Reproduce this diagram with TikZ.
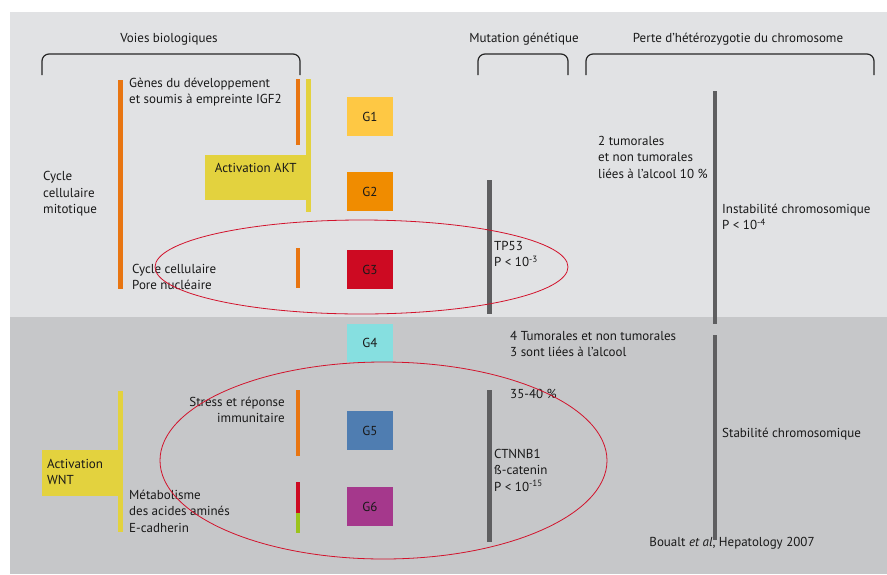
\documentclass[tikz,border=0pt]{standalone}
\usepackage{fontspec}
\setmainfont{PT Sans}
\usetikzlibrary{positioning}
\definecolor{bgtop}{HTML}{E1E2E4}
\definecolor{bgbot}{HTML}{C6C7C9}
\definecolor{barorange}{HTML}{E87511}
\definecolor{baryellow}{HTML}{E3D23E}
\definecolor{bargray}{HTML}{5E5E60}
\definecolor{bargreen}{HTML}{9BC31C}
\definecolor{ringred}{HTML}{D2132C}
\definecolor{cgi}{HTML}{FEC844}
\definecolor{cgii}{HTML}{F08C00}
\definecolor{cgiii}{HTML}{CD0A22}
\definecolor{cgiv}{HTML}{86DFE0}
\definecolor{cgv}{HTML}{4F7DB1}
\definecolor{cgvi}{HTML}{A5388C}

\begin{document}
\begin{tikzpicture}[
x=1pt, y=-1pt,
txt/.style={inner sep=0pt, align=left, text=black!90, font=\fontsize{13}{16.5}\selectfont},
groupbox/.style={inner sep=0pt, minimum width=46pt, minimum height=39pt, text=black!90, font=\fontsize{13}{15}\selectfont},
actbox/.style={fill=baryellow, inner sep=0pt},
bar/.style={line width=4.5pt},
graybar/.style={line width=4.8pt, draw=bargray},
brace/.style={draw=black!85, line width=1.2pt, rounded corners=7pt},
ring/.style={draw=ringred, line width=0.8pt}
]
    %Background
    \useasboundingbox (0,0) rectangle (887,574);
    \fill[white] (0,0) rectangle (887,574);
    \fill[bgtop] (10,12) rectangle (887,317);
    \fill[bgbot] (10,317) rectangle (887,574);

    %Headers
    \node[txt] (hvoies) at (169,39) {Voies biologiques};
    \node[txt] (hmut)   at (524,39) {Mutation génétique};
    \node[txt] (hperte) at (738,39) {Perte d’hétérozygotie du chromosome};
    \draw[brace] (42,75) -- (42,54) -- (300,54) -- (300,75);
    \draw[brace] (478,75) -- (478,54) -- (568,54) -- (568,75);
    \draw[brace] (586,75) -- (586,54) -- (874,54) -- (874,75);

    %Activation boxes
    \node[actbox, minimum width=101pt, minimum height=45pt, anchor=north west]
        (akt) at (205,155) {};
    \node[txt, anchor=north, below=8pt of akt.north] (akttxt) {Activation AKT};
    \node[actbox, minimum width=76pt, minimum height=46pt, anchor=north west]
        (wnt) at (42,450) {};
    \node[txt, anchor=west] (wnttxt) at (47,472) {Activation\\WNT};

    %Bars
    \draw[bar, barorange] (120.5,80) -- (120.5,289);
    \draw[bar, barorange] (298,79) -- (298,145);
    \draw[bar, baryellow] (308.5,79) -- (308.5,212);
    \draw[bar, barorange] (298,248) -- (298,288);
    \draw[bar, baryellow] (120.5,391) -- (120.5,532);
    \draw[bar, barorange] (298,390) -- (298,456);
    \draw[bar, cgiii]     (298,482) -- (298,513);
    \draw[bar, bargreen]  (298,513) -- (298,533);
    \draw[graybar] (489.5,180) -- (489.5,314);
    \draw[graybar] (489.5,390) -- (489.5,542);
    \draw[graybar] (715,91) -- (715,324);
    \draw[graybar] (715,335) -- (715,540);

    %Groups
    \node[groupbox, fill=cgi]   (g1) at (370,116.5) {G1};
    \node[groupbox, fill=cgii]  (g2) at (370,191.5) {G2};
    \node[groupbox, fill=cgiii] (g3) at (370,269.5) {G3};
    \node[groupbox, fill=cgiv, minimum height=38pt] (g4) at (370,343) {G4};
    \node[groupbox, fill=cgv]   (g5) at (370,430.5) {G5};
    \node[groupbox, fill=cgvi]  (g6) at (370,506.5) {G6};

    %Labels
    \node[txt, anchor=west] (genes)  at (129,92)  {Gènes du développement\\et soumis à empreinte IGF2};
    \node[txt, anchor=west] (cycmit) at (43,194)  {Cycle\\cellulaire\\mitotique};
    \node[txt, anchor=west] (cycpor) at (132,277) {Cycle cellulaire\\Pore nucléaire};
    \node[txt, anchor=west] (tp53)   at (494,254) {TP53\\P < 10\textsuperscript{-3}};
    \node[txt, anchor=west] (tumii)  at (598,157) {2 tumorales\\et non tumorales\\liées à l’alcool 10 \%};
    \node[txt, anchor=west] (instab) at (722,217) {Instabilité chromosomique\\P < 10\textsuperscript{-4}};
    \node[txt, anchor=west] (tumiv)  at (510,344) {4 Tumorales et non tumorales\\3 sont liées à l’alcool};
    \node[txt, anchor=west] (pct)    at (510,394) {35-40 \%};
    \node[txt, anchor=west] (ctnnb)  at (494,470) {CTNNB1\\ß-catenin\\P < 10\textsuperscript{-15}};
    \node[txt, anchor=west] (stab)   at (722,434) {Stabilité chromosomique};
    \node[txt, anchor=east, align=right] (stress) at (285,410) {Stress et réponse\\immunitaire};
    \node[txt, anchor=west] (metab)  at (129,511) {Métabolisme\\des acides aminés\\E-cadherin};
    \node[txt] (source) at (732,543) {Boualt \textit{et al}, Hepatology 2007};

    %Rings
    \draw[ring] (361.5,267) ellipse [x radius=206.5pt, y radius=47pt];
    \draw[ring] (383.5,460.5) ellipse [x radius=223.5pt, y radius=98.5pt];
\end{tikzpicture}
\end{document}
